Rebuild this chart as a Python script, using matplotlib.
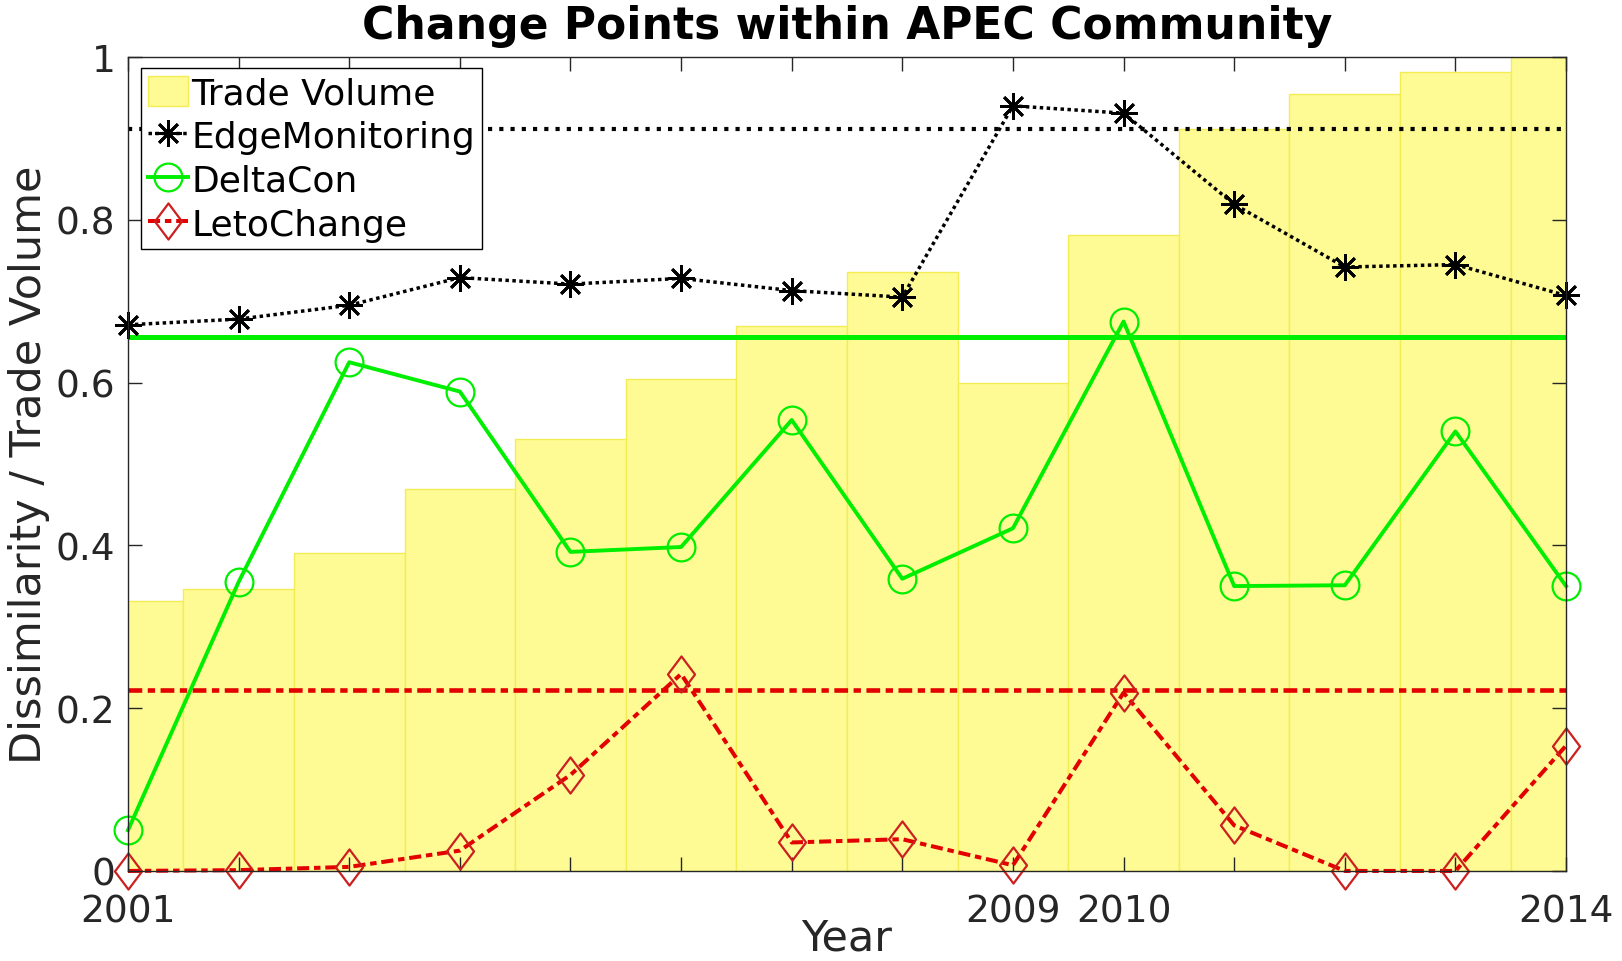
import matplotlib
matplotlib.use("Agg")
import matplotlib.pyplot as plt
from matplotlib.path import Path
from matplotlib.patches import Patch
from matplotlib.lines import Line2D

# ---------------- data ----------------
years = [2001, 2002, 2003, 2004, 2005, 2006, 2007, 2008, 2009, 2010, 2011, 2012, 2013, 2014]
trade_volume = [0.332, 0.346, 0.391, 0.469, 0.531, 0.605, 0.670, 0.736, 0.600, 0.781, 0.911, 0.955, 0.982, 1.000]
edge_monitoring = [0.671, 0.678, 0.695, 0.729, 0.721, 0.728, 0.713, 0.705, 0.940, 0.931, 0.819, 0.742, 0.745, 0.707]
deltacon = [0.050, 0.355, 0.625, 0.589, 0.392, 0.398, 0.554, 0.359, 0.421, 0.675, 0.350, 0.351, 0.540, 0.350]
letochange = [0.000, 0.001, 0.005, 0.025, 0.118, 0.242, 0.035, 0.039, 0.007, 0.219, 0.056, 0.000, 0.000, 0.154]
thr_edge = 0.911
thr_deltacon = 0.656
thr_leto = 0.222
xtick_labels = ["2001", "", "", "", "", "", "", "", "2009", "2010", "", "", "", "2014"]
yticks = [0, 0.2, 0.4, 0.6, 0.8, 1.0]
ytick_labels = ["0", "0.2", "0.4", "0.6", "0.8", "1"]
series_names = ["Trade Volume", "EdgeMonitoring", "DeltaCon", "LetoChange"]

# ---------------- style ----------------
plt.rcParams['font.family'] = ['DejaVu Sans']
GREEN = '#00ee00'
RED = '#e30000'
RED_MK = '#cc1f1f'
AX = '#262626'
EDGE_LS = (0, (1, 1.0))
LETO_LS = (0, (3.0, 1.2, 1.6, 1.2))

diamond = Path([(0, 1), (0.75, 0), (0, -1), (-0.75, 0), (0, 1)],
               [Path.MOVETO, Path.LINETO, Path.LINETO, Path.LINETO, Path.CLOSEPOLY])

fig = plt.figure(figsize=(16.22, 9.62), dpi=100)
ax = fig.add_axes([0.0789, 0.0936, 0.9655 - 0.0789, 0.9397 - 0.0936])

ax.bar(years, trade_volume, width=1.0, align='center', color='#fffb94',
       edgecolor='#f3ec55', linewidth=1.0, zorder=1)

ax.axhline(thr_edge, color='black', linestyle=(0, (1, 1.7)), linewidth=3.0, zorder=2)
ax.axhline(thr_deltacon, color=GREEN, linestyle='-', linewidth=3.6, zorder=2)
ax.axhline(thr_leto, color=RED, linestyle=LETO_LS, linewidth=3.3, zorder=2)

ax.plot(years, edge_monitoring, color='black', linestyle=EDGE_LS, linewidth=2.5,
        marker=(8, 2, 0), markersize=19, markeredgewidth=2.0, zorder=4, clip_on=False)
ax.plot(years, deltacon, color=GREEN, linestyle='-', linewidth=2.8,
        marker='o', markersize=20, markerfacecolor='none', markeredgecolor=GREEN,
        markeredgewidth=1.6, zorder=4, clip_on=False)
ax.plot(years, letochange, color=RED, linestyle=LETO_LS, linewidth=2.9,
        marker=diamond, markersize=26, markerfacecolor='none', markeredgecolor=RED_MK,
        markeredgewidth=1.6, zorder=4, clip_on=False)

ax.set_xlim(2001, 2014)
ax.set_ylim(0, 1)
ax.set_xticks(years)
ax.set_xticklabels(xtick_labels)
ax.set_yticks(yticks)
ax.set_yticklabels(ytick_labels)
ax.tick_params(direction='in', length=10, width=1.0, colors=AX, labelsize=27,
               top=True, right=True)
ax.tick_params(axis='x', pad=16)
ax.tick_params(axis='y', pad=9)
for s in ax.spines.values():
    s.set_color(AX)
    s.set_linewidth(1.0)
    s.set_zorder(5)

ax.set_xlabel('Year', fontsize=31, color=AX, labelpad=-9)
ax.set_ylabel('Dissimilarity / Trade Volume', fontsize=31, color=AX, labelpad=4)
ax.set_title('Change Points within APEC Community', fontsize=31.7, fontweight='bold', pad=14)

handles = [
    Patch(facecolor='#fffb94', edgecolor='#f3ec55', linewidth=1.0),
    Line2D([], [], color='black', linestyle=EDGE_LS, linewidth=2.5, marker=(8, 2, 0),
           markersize=19, markeredgewidth=2.0),
    Line2D([], [], color=GREEN, linewidth=2.8, marker='o', markersize=20,
           markerfacecolor='none', markeredgewidth=1.6),
    Line2D([], [], color=RED, linestyle=LETO_LS, linewidth=2.9, marker=diamond,
           markersize=26, markerfacecolor='none', markeredgecolor=RED_MK, markeredgewidth=1.6),
]
leg = ax.legend(handles, series_names, loc='upper left', bbox_to_anchor=(0.009, 0.986),
                fontsize=26, frameon=True, fancybox=False, framealpha=1.0,
                edgecolor='black', handlelength=1.1, handleheight=0.9, handletextpad=0.1,
                borderpad=0.2, labelspacing=0.26, borderaxespad=0.0)
leg.get_frame().set_linewidth(1.0)
leg.set_zorder(10)

fig.savefig('out.png', dpi=100)
